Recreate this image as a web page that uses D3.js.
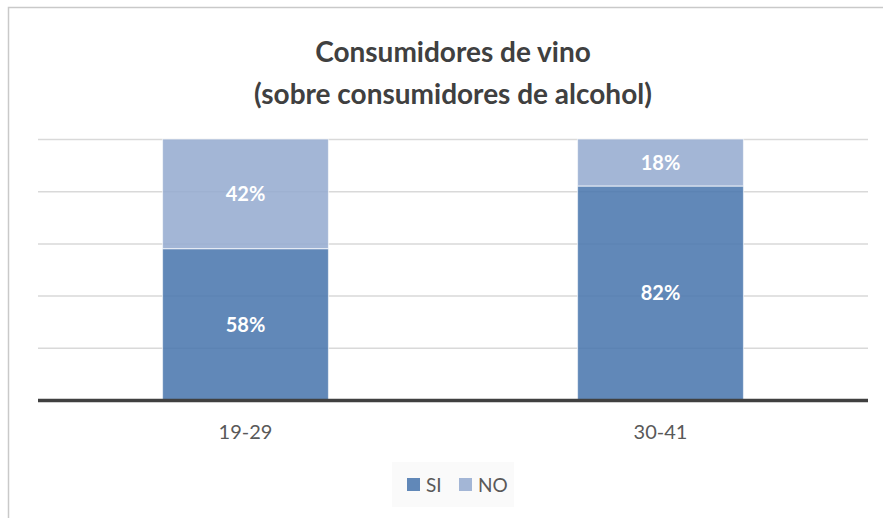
<!DOCTYPE html>
<html>
<head>
<meta charset="utf-8">
<script src="https://cdn.jsdelivr.net/npm/d3@7"></script>
<style>
  body { margin: 0; background: #fff; }
  text { font-family: Lato, "Open Sans", sans-serif; }
</style>
</head>
<body>
<script>
"use strict";

var categories = ["19-29", "30-41"];
var seriesNames = ["SI", "NO"];
var siValues = [0.58, 0.82];
var noValues = [0.42, 0.18];
var yTicks = [0, 0.2, 0.4, 0.6, 0.8, 1];
var titleLines = ["Consumidores de vino", "(sobre consumidores de alcohol)"];
var colors = {SI: "#4a76ad", NO: "#95abd0"};

var widthEcran = 883, heightEcran = 518;
var plot = {left: 38, right: 868, top: 139, bottom: 400};

var canvas = d3.select("body")
    .append("svg")
    .attr("width", widthEcran)
    .attr("height", heightEcran);

// cadre du graphique
canvas.append("rect")
    .attr("x", 8.5)
    .attr("y", 7.5)
    .attr("width", 900)
    .attr("height", 600)
    .attr("fill", "none")
    .attr("stroke", "#c9c9c9")
    .attr("stroke-width", 1.5);

var x = d3.scaleBand()
    .domain(categories)
    .range([plot.left, plot.right])
    .paddingInner(0.6)
    .paddingOuter(0.3);

var y = d3.scaleLinear()
    .domain([0, 1])
    .range([plot.bottom, plot.top]);

// lignes de grille
canvas.append("g")
    .attr("class", "grid")
    .attr("transform", "translate(" + plot.left + ",0)")
    .call(d3.axisLeft(y)
        .tickValues(yTicks.slice(1))
        .tickSize(-(plot.right - plot.left))
        .tickFormat(""))
    .call(function (g) {
        g.select(".domain").remove();
        g.selectAll("line")
            .attr("stroke", "#d9d9d9")
            .attr("stroke-width", 1.5);
    });

var table = categories.map(function (c, i) {
    return {cat: c, SI: siValues[i], NO: noValues[i]};
});
var stacked = d3.stack().keys(seriesNames)(table);

var groups = canvas.selectAll("g.serie")
    .data(stacked)
    .enter()
    .append("g")
    .attr("class", "serie");

groups.selectAll("rect")
    .data(function (s) { return s.map(function (d) { return {key: s.key, d: d}; }); })
    .enter()
    .append("rect")
    .attr("x", function (e) { return x(e.d.data.cat); })
    .attr("y", function (e) { return y(e.d[1]); })
    .attr("width", x.bandwidth())
    .attr("height", function (e) { return y(e.d[0]) - y(e.d[1]); })
    .attr("fill", function (e) { return colors[e.key]; })
    .attr("fill-opacity", 0.87)
    .attr("stroke", "#ffffff")
    .attr("stroke-opacity", 0.6)
    .attr("stroke-width", 1.2);

groups.selectAll("text")
    .data(function (s) { return s.map(function (d) { return {key: s.key, d: d}; }); })
    .enter()
    .append("text")
    .attr("x", function (e) { return x(e.d.data.cat) + x.bandwidth() / 2; })
    .attr("y", function (e) { return (y(e.d[0]) + y(e.d[1])) / 2; })
    .attr("dy", "0.36em")
    .attr("text-anchor", "middle")
    .attr("font-size", "20px")
    .attr("font-weight", "bold")
    .attr("fill", "#ffffff")
    .text(function (e) { return Math.round((e.d[1] - e.d[0]) * 100) + "%"; });

// axe des x
var xAxis = canvas.append("g")
    .attr("transform", "translate(0," + plot.bottom + ")")
    .call(d3.axisBottom(x).tickSize(0));
xAxis.select(".domain").remove();
xAxis.selectAll("text")
    .attr("font-size", "20px")
    .attr("fill", "#595959")
    .attr("dy", "0.36em")
    .attr("y", 32);

canvas.append("line")
    .attr("x1", plot.left)
    .attr("x2", plot.right)
    .attr("y1", plot.bottom + 0.5)
    .attr("y2", plot.bottom + 0.5)
    .attr("stroke", "#404040")
    .attr("stroke-width", 3.5);

// titre
canvas.selectAll("text.title")
    .data(titleLines)
    .enter()
    .append("text")
    .attr("class", "title")
    .attr("x", (plot.left + plot.right) / 2)
    .attr("y", function (d, i) { return 62 + i * 42; })
    .attr("text-anchor", "middle")
    .attr("font-size", "28px")
    .attr("font-weight", "bold")
    .attr("fill", "#404040")
    .text(function (d) { return d; });

// legende
var legend = canvas.append("g");
legend.append("rect")
    .attr("x", 392)
    .attr("y", 462)
    .attr("width", 122)
    .attr("height", 45)
    .attr("fill", "#fafafa");

var legendX = [407, 459];
seriesNames.forEach(function (s, i) {
    legend.append("rect")
        .attr("x", legendX[i])
        .attr("y", 478)
        .attr("width", 13)
        .attr("height", 13)
        .attr("fill", colors[s])
        .attr("fill-opacity", 0.87);
    legend.append("text")
        .attr("x", legendX[i] + 19)
        .attr("y", 485)
        .attr("dy", "0.36em")
        .attr("font-size", "19px")
        .attr("fill", "#595959")
        .text(s);
});
</script>
</body>
</html>
